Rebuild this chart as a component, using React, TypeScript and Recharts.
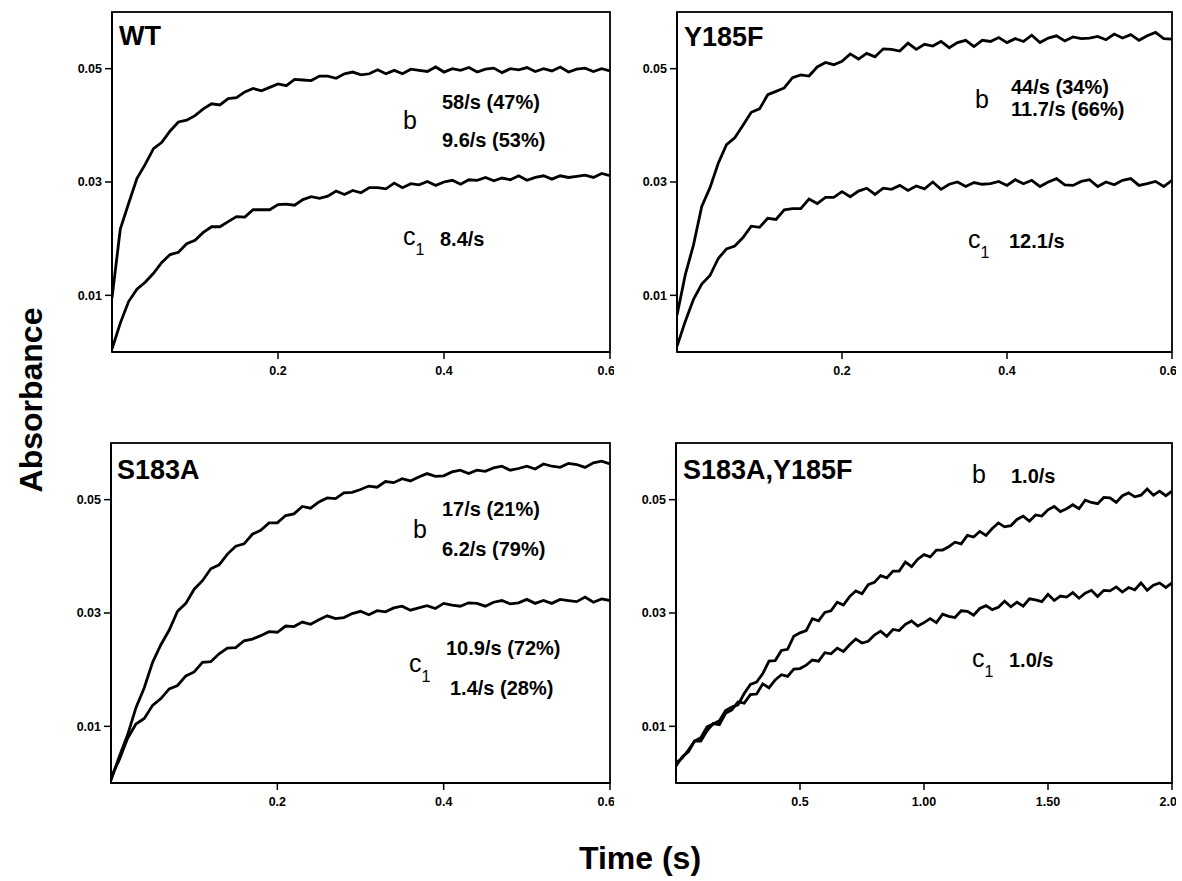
import { LineChart, Line, XAxis, YAxis } from 'recharts'

const timeShort = [
  0, 0.01, 0.02, 0.03, 0.04, 0.05, 0.06, 0.07, 0.08, 0.09,
  0.1, 0.11, 0.12, 0.13, 0.14, 0.15, 0.16, 0.17, 0.18, 0.19,
  0.2, 0.21, 0.22, 0.23, 0.24, 0.25, 0.26, 0.27, 0.28, 0.29,
  0.3, 0.31, 0.32, 0.33, 0.34, 0.35, 0.36, 0.37, 0.38, 0.39,
  0.4, 0.41, 0.42, 0.43, 0.44, 0.45, 0.46, 0.47, 0.48, 0.49,
  0.5, 0.51, 0.52, 0.53, 0.54, 0.55, 0.56, 0.57, 0.58, 0.59, 0.6,
]

const timeLong = [
  0, 0.025, 0.05, 0.075, 0.1, 0.125, 0.15, 0.175, 0.2, 0.225,
  0.25, 0.275, 0.3, 0.325, 0.35, 0.375, 0.4, 0.425, 0.45, 0.475,
  0.5, 0.525, 0.55, 0.575, 0.6, 0.625, 0.65, 0.675, 0.7, 0.725,
  0.75, 0.775, 0.8, 0.825, 0.85, 0.875, 0.9, 0.925, 0.95, 0.975,
  1.0, 1.025, 1.05, 1.075, 1.1, 1.125, 1.15, 1.175, 1.2, 1.225,
  1.25, 1.275, 1.3, 1.325, 1.35, 1.375, 1.4, 1.425, 1.45, 1.475,
  1.5, 1.525, 1.55, 1.575, 1.6, 1.625, 1.65, 1.675, 1.7, 1.725,
  1.75, 1.775, 1.8, 1.825, 1.85, 1.875, 1.9, 1.925, 1.95, 1.975, 2.0,
]

// WT
const wtB = [
  0.0095, 0.0217, 0.0262, 0.0306, 0.0331, 0.0359, 0.037, 0.039, 0.0406, 0.0409,
  0.0417, 0.0429, 0.0438, 0.0436, 0.0447, 0.0449, 0.0459, 0.0465, 0.0461, 0.0467,
  0.0473, 0.047, 0.0481, 0.048, 0.0479, 0.0487, 0.0487, 0.0483, 0.0491, 0.0494,
  0.0489, 0.0491, 0.0498, 0.0491, 0.0497, 0.0491, 0.0499, 0.0497, 0.0495, 0.0503,
  0.0494, 0.05, 0.0497, 0.0502, 0.0494, 0.0499, 0.0501, 0.0493, 0.05, 0.0498,
  0.0502, 0.0495, 0.05, 0.0496, 0.0503, 0.0494, 0.0499, 0.0501, 0.0495, 0.05, 0.0496,
]
const wtC1 = [
  0.0005, 0.0051, 0.0089, 0.0111, 0.0123, 0.0139, 0.0158, 0.0172, 0.0176, 0.0191,
  0.0197, 0.0211, 0.0221, 0.0221, 0.023, 0.0239, 0.0238, 0.0251, 0.0251, 0.0251,
  0.026, 0.0261, 0.0259, 0.0269, 0.0274, 0.0271, 0.0275, 0.0284, 0.0278, 0.0285,
  0.0281, 0.029, 0.029, 0.0288, 0.0298, 0.029, 0.0297, 0.0295, 0.0301, 0.0294,
  0.03, 0.0303, 0.0296, 0.0304, 0.0303, 0.0308, 0.0302, 0.0307, 0.0304, 0.0311,
  0.0303, 0.0308, 0.0311, 0.0305, 0.0311, 0.0308, 0.031, 0.0312, 0.0308, 0.0315, 0.0311,
]

// Y185F
const y185fB = [
  0.0065, 0.0136, 0.0189, 0.0257, 0.029, 0.0333, 0.0366, 0.0378, 0.04, 0.0423,
  0.0429, 0.0454, 0.046, 0.0466, 0.0484, 0.0489, 0.0487, 0.0503, 0.0511, 0.0507,
  0.0513, 0.0526, 0.0517, 0.0527, 0.0521, 0.0535, 0.0534, 0.0531, 0.0545, 0.0534,
  0.0543, 0.054, 0.0548, 0.0537, 0.0546, 0.055, 0.0539, 0.055, 0.0548, 0.0555,
  0.0546, 0.0553, 0.0548, 0.0559, 0.0546, 0.0554, 0.0558, 0.0549, 0.0556, 0.0553,
  0.0554, 0.0557, 0.0551, 0.0561, 0.0554, 0.056, 0.055, 0.0558, 0.0564, 0.0553, 0.0552,
]
const y185fC1 = [
  0.001, 0.0054, 0.0093, 0.012, 0.0135, 0.0165, 0.0182, 0.0187, 0.0202, 0.0222,
  0.022, 0.0236, 0.0234, 0.0251, 0.0253, 0.0253, 0.027, 0.0262, 0.0273, 0.0273,
  0.0283, 0.0274, 0.0284, 0.0289, 0.0278, 0.0289, 0.0287, 0.0294, 0.0285, 0.0293,
  0.0288, 0.03, 0.0287, 0.0296, 0.03, 0.0292, 0.0299, 0.0296, 0.0297, 0.0301,
  0.0294, 0.0304, 0.0297, 0.0303, 0.0292, 0.03, 0.0306, 0.0295, 0.0294, 0.0301,
  0.0304, 0.0292, 0.03, 0.0295, 0.0303, 0.0306, 0.0294, 0.0297, 0.0301, 0.0292, 0.0303,
]

// S183A
const s183aB = [
  0.0005, 0.0047, 0.0085, 0.0133, 0.0168, 0.0213, 0.0244, 0.027, 0.0303, 0.0317,
  0.0342, 0.0357, 0.0378, 0.0385, 0.0404, 0.0418, 0.0422, 0.0439, 0.0446, 0.0459,
  0.0459, 0.0472, 0.0475, 0.0488, 0.0485, 0.0496, 0.0503, 0.0502, 0.0512, 0.0513,
  0.0518, 0.0524, 0.0522, 0.0532, 0.053, 0.0537, 0.0533, 0.054, 0.0546, 0.0541,
  0.0542, 0.0549, 0.0552, 0.0546, 0.0552, 0.055, 0.0556, 0.0559, 0.0552, 0.0555,
  0.0559, 0.0554, 0.0563, 0.0559, 0.0557, 0.0564, 0.0562, 0.0557, 0.0565, 0.0568, 0.0563,
]
const s183aC1 = [
  0.001, 0.0041, 0.0079, 0.0104, 0.0114, 0.0137, 0.0149, 0.0166, 0.0172, 0.0189,
  0.0196, 0.0213, 0.0214, 0.0228, 0.0238, 0.0239, 0.0251, 0.0254, 0.026, 0.0267,
  0.0266, 0.0277, 0.0276, 0.0284, 0.028, 0.0288, 0.0295, 0.029, 0.0292, 0.0299,
  0.0303, 0.0297, 0.0304, 0.0302, 0.0309, 0.0312, 0.0305, 0.0309, 0.0313, 0.0308,
  0.0317, 0.0314, 0.0312, 0.0318, 0.0317, 0.0312, 0.0319, 0.0322, 0.0316, 0.0318,
  0.0324, 0.0317, 0.0322, 0.0317, 0.0324, 0.0322, 0.032, 0.0328, 0.0319, 0.0325, 0.0322,
]

// S183A,Y185F
const doubleB = [
  0.0035, 0.0044, 0.0058, 0.0074, 0.008, 0.0099, 0.0104, 0.011, 0.0128, 0.0134,
  0.0138, 0.0158, 0.0174, 0.0178, 0.0193, 0.0215, 0.0216, 0.0234, 0.0236, 0.0259,
  0.0265, 0.0269, 0.029, 0.0286, 0.0301, 0.0304, 0.0319, 0.0314, 0.0329, 0.0339,
  0.0334, 0.035, 0.0354, 0.0366, 0.0362, 0.0374, 0.0374, 0.039, 0.0382, 0.0395,
  0.0403, 0.0399, 0.0411, 0.0411, 0.0417, 0.0425, 0.0422, 0.0437, 0.0434, 0.0444,
  0.0437, 0.0449, 0.0459, 0.0452, 0.0454, 0.0465, 0.0471, 0.0462, 0.0473, 0.0471,
  0.0482, 0.0488, 0.0479, 0.0484, 0.0491, 0.0484, 0.0499, 0.0495, 0.0493, 0.0504,
  0.0503, 0.0495, 0.0507, 0.0512, 0.0505, 0.0508, 0.0519, 0.0508, 0.0515, 0.0507, 0.0515,
]
const doubleC1 = [
  0.003, 0.0046, 0.0055, 0.0074, 0.0074, 0.0092, 0.0105, 0.0103, 0.0123, 0.0129,
  0.0143, 0.0141, 0.0156, 0.0157, 0.0175, 0.0168, 0.0182, 0.0191, 0.0188, 0.0201,
  0.0202, 0.0208, 0.0217, 0.0215, 0.023, 0.0228, 0.0238, 0.0232, 0.0244, 0.0254,
  0.0247, 0.025, 0.0261, 0.0268, 0.0259, 0.0271, 0.0269, 0.028, 0.0286, 0.0277,
  0.0283, 0.029, 0.0283, 0.0298, 0.0294, 0.0292, 0.0304, 0.0303, 0.0296, 0.0308,
  0.0313, 0.0306, 0.031, 0.0321, 0.0311, 0.0319, 0.0312, 0.0325, 0.0323, 0.032,
  0.0333, 0.0322, 0.033, 0.0328, 0.0336, 0.0326, 0.0335, 0.034, 0.0329, 0.034,
  0.0339, 0.0346, 0.0337, 0.0345, 0.0341, 0.0353, 0.034, 0.0349, 0.0353, 0.0345, 0.0353,
]

const yTicks = [0.01, 0.03, 0.05]
const shortTicks = [0.2, 0.4, 0.6]
const longTicks = [0.5, 1.0, 1.5, 2.0]
const longTickLabels = ['0.5', '1.00', '1.50', '2.0']

const FONT = '"Liberation Sans", Arial, Helvetica, sans-serif'

type Note = { x: number; y: number; text: string }

type PanelProps = {
  left: number
  top: number
  w: number
  h: number
  time: number[]
  b: number[]
  c1: number[]
  xMax: number
  xTicks: number[]
  xFormat: (v: number) => string
}

const Y_W = 60
const X_H = 40
const PAD = 4

function Panel({ left, top, w, h, time, b, c1, xMax, xTicks, xFormat }: PanelProps) {
  const rows = time.map((t, i) => ({ t, b: b[i], c1: c1[i] }))
  const tickStyle = { fontSize: 12.5, fontWeight: 'bold', fill: '#000', fontFamily: FONT }
  return (
    <div style={{ position: 'absolute', left: left - Y_W, top: top - PAD }}>
      <LineChart
        width={Y_W + w + PAD}
        height={PAD + h + X_H}
        data={rows}
        margin={{ top: PAD, right: PAD, bottom: 0, left: 0 }}
      >
        <XAxis
          dataKey="t"
          type="number"
          domain={[0, xMax]}
          ticks={xTicks}
          tickFormatter={xFormat}
          height={X_H}
          tick={tickStyle}
          tickSize={7}
          tickMargin={7}
          axisLine={{ stroke: '#000', strokeWidth: 2 }}
          tickLine={{ stroke: '#000', strokeWidth: 1.5 }}
          allowDataOverflow
        />
        <YAxis
          type="number"
          domain={[0, 0.06]}
          ticks={yTicks}
          tickFormatter={(v: number) => v.toFixed(2)}
          width={Y_W}
          tick={tickStyle}
          tickSize={7}
          tickMargin={3}
          axisLine={{ stroke: '#000', strokeWidth: 2 }}
          tickLine={{ stroke: '#000', strokeWidth: 1.5 }}
          allowDataOverflow
        />
        <Line
          dataKey="b"
          stroke="#000"
          strokeWidth={2.8}
          dot={false}
          isAnimationActive={false}
        />
        <Line
          dataKey="c1"
          stroke="#000"
          strokeWidth={2.8}
          dot={false}
          isAnimationActive={false}
        />
      </LineChart>
    </div>
  )
}

// plot frames: left, top, width, height
const frames = [
  [112, 12, 498, 340],
  [677, 12, 495, 340],
  [111, 443, 499, 340],
  [676, 443, 496, 340],
]

const valueNotes: Note[] = [
  { x: 442, y: 109, text: '58/s (47%)' },
  { x: 442, y: 147, text: '9.6/s (53%)' },
  { x: 440, y: 246, text: '8.4/s' },
  { x: 1011, y: 94, text: '44/s (34%)' },
  { x: 1011, y: 116, text: '11.7/s (66%)' },
  { x: 1009, y: 248, text: '12.1/s' },
  { x: 442, y: 516, text: '17/s (21%)' },
  { x: 442, y: 556, text: '6.2/s (79%)' },
  { x: 446, y: 655, text: '10.9/s (72%)' },
  { x: 450, y: 695, text: '1.4/s (28%)' },
  { x: 1011, y: 483, text: '1.0/s' },
  { x: 1009, y: 667, text: '1.0/s' },
]

const titleNotes: Note[] = [
  { x: 119, y: 45, text: 'WT' },
  { x: 684, y: 46, text: 'Y185F' },
  { x: 117, y: 479, text: 'S183A' },
  { x: 683, y: 479, text: 'S183A,Y185F' },
]

const bNotes = [
  { x: 403, y: 129 },
  { x: 975, y: 108 },
  { x: 413, y: 538 },
  { x: 972, y: 483 },
]

const cNotes = [
  { x: 403, y: 245 },
  { x: 968, y: 248 },
  { x: 409, y: 672 },
  { x: 972, y: 667 },
]

export default function App() {
  const shortFmt = (v: number) => v.toFixed(1)
  const longFmt = (v: number) => longTickLabels[longTicks.indexOf(v)] ?? String(v)
  return (
    <div
      style={{
        position: 'absolute',
        left: 0,
        top: 0,
        width: 1182,
        height: 881,
        background: '#fff',
        fontFamily: FONT,
      }}
    >
      <Panel left={112} top={12} w={498} h={340} time={timeShort} b={wtB} c1={wtC1} xMax={0.6} xTicks={shortTicks} xFormat={shortFmt} />
      <Panel left={677} top={12} w={495} h={340} time={timeShort} b={y185fB} c1={y185fC1} xMax={0.6} xTicks={shortTicks} xFormat={shortFmt} />
      <Panel left={111} top={443} w={499} h={340} time={timeShort} b={s183aB} c1={s183aC1} xMax={0.6} xTicks={shortTicks} xFormat={shortFmt} />
      <Panel left={676} top={443} w={496} h={340} time={timeLong} b={doubleB} c1={doubleC1} xMax={2.0} xTicks={longTicks} xFormat={longFmt} />

      <svg
        width={1182}
        height={881}
        style={{ position: 'absolute', left: 0, top: 0, pointerEvents: 'none' }}
        fontFamily={FONT}
      >
        {frames.map(([x, y, w, h], i) => (
          <rect key={'f' + i} x={x} y={y} width={w} height={h} fill="none" stroke="#000" strokeWidth={1.8} />
        ))}
        {titleNotes.map((n) => (
          <text key={n.text} x={n.x} y={n.y} fontSize={27} fontWeight="bold" fill="#000">
            {n.text}
          </text>
        ))}
        {valueNotes.map((n, i) => (
          <text key={i} x={n.x} y={n.y} fontSize={20} fontWeight="bold" fill="#000">
            {n.text}
          </text>
        ))}
        {bNotes.map((n, i) => (
          <text key={'b' + i} x={n.x} y={n.y} fontSize={25} fill="#000">
            b
          </text>
        ))}
        {cNotes.map((n, i) => (
          <text key={'c' + i} x={n.x} y={n.y} fontSize={25} fill="#000">
            c<tspan dy={10} fontSize={16}>1</tspan>
          </text>
        ))}
        <text
          x={34}
          y={400}
          fontSize={32}
          fontWeight="bold"
          textAnchor="middle"
          transform="rotate(-90 34 400)"
          dominantBaseline="middle"
          fill="#000"
        >
          Absorbance
        </text>
        <text x={640} y={869} fontSize={32} fontWeight="bold" textAnchor="middle" fill="#000">
          Time (s)
        </text>
      </svg>
    </div>
  )
}
